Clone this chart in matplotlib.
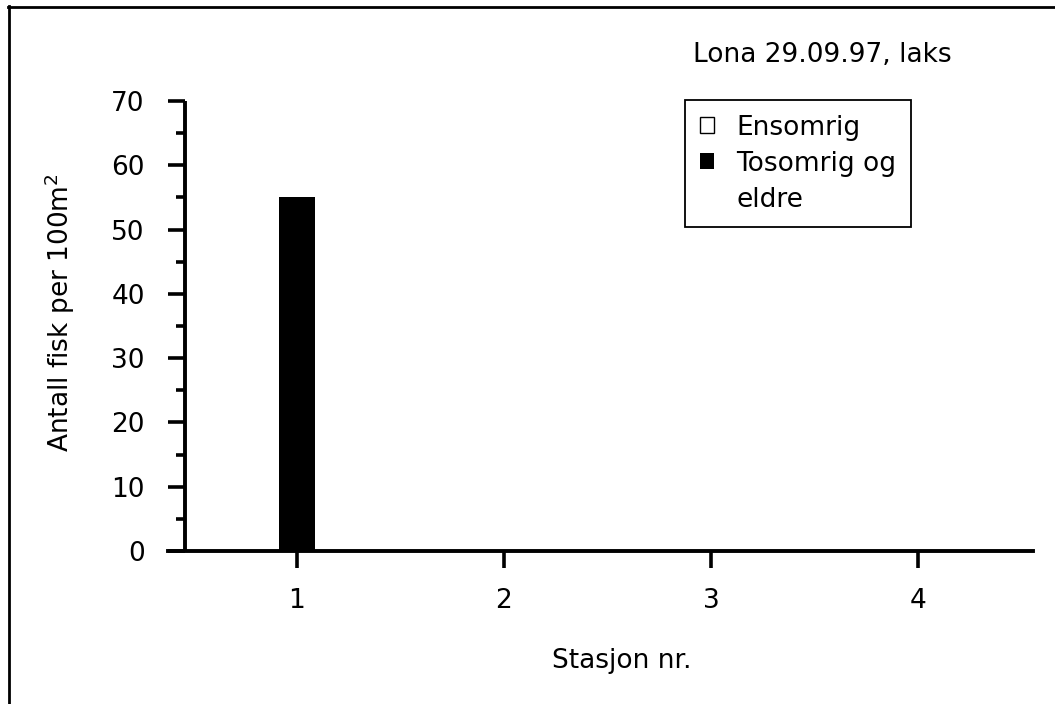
"""
Lona 29.09.97 - salmon density per station
"""

import matplotlib.pyplot as plt
from matplotlib.patches import Rectangle
from matplotlib.lines import Line2D

# Data
stations = [1, 2, 3, 4]
ensomrig = [0, 0, 0, 0]
tosomrig = [55, 0, 0, 0]
series_labels = ["Ensomrig", "Tosomrig og", "eldre"]
title_text = "Lona 29.09.97, laks"
x_label = "Stasjon nr."
y_label = r"Antall fisk per 100m$^{\mathregular{2}}$"

W, H = 1055, 704
FS = 19
plt.rcParams["font.family"] = "DejaVu Sans"

fig = plt.figure(figsize=(W / 100, H / 100), dpi=100)
ax = fig.add_axes([168 / W, 1 - 551 / H, (1033 - 168) / W, 450 / H])

bw = 0.17
b1 = ax.bar(stations, ensomrig, width=bw, color="white", edgecolor="black", linewidth=1)
b2 = ax.bar(stations, tosomrig, width=bw, color="black", edgecolor="black", linewidth=0)

ax.set_xlim(0.377, 4.556)
ax.set_ylim(0, 70)

for s in ["top", "right"]:
    ax.spines[s].set_visible(False)
ax.spines["left"].set_position(("data", 0.459))
ax.spines["left"].set_linewidth(2.8)
ax.spines["bottom"].set_linewidth(2.8)
ax.spines["left"].set_capstyle("butt")

ax.set_xticks(stations)
ax.set_yticks(range(0, 71, 10))
ax.set_yticks(range(5, 70, 10), minor=True)
ax.tick_params(axis="both", which="major", direction="out", length=12, width=2.6,
               labelsize=FS, color="black")
ax.tick_params(axis="y", which="major", pad=17)
ax.tick_params(axis="x", which="major", pad=15)
ax.tick_params(axis="y", which="minor", direction="out", length=6.5, width=2.6)

fig.text(622 / W, 1 - 668 / H, x_label, ha="center", va="baseline", fontsize=FS)
fig.text(60 / W, 1 - 313 / H, y_label, ha="center", va="center", rotation=90, fontsize=FS)
fig.text(693 / W, 1 - 62 / H, title_text, ha="left", va="baseline", fontsize=FS)

# legend: third entry is the wrapped line of the second label
blank = Rectangle((0, 0), 1, 1, visible=False)
leg = ax.legend([b1, b2, blank], series_labels, loc="upper left",
                bbox_to_anchor=(685 / W, 1 - 100 / H), bbox_transform=fig.transFigure,
                borderaxespad=0, fontsize=FS, handlelength=0.55, handleheight=0.55,
                handletextpad=0.85, labelspacing=0.38, borderpad=0.55,
                fancybox=False, edgecolor="black", framealpha=1)
leg.get_frame().set_linewidth(1.3)

# outer frame (top and left edges)
fig.add_artist(Line2D([8 / W, 1], [1 - 7 / H, 1 - 7 / H], color="black", lw=2, transform=fig.transFigure))
fig.add_artist(Line2D([9 / W, 9 / W], [0, 1 - 6 / H], color="black", lw=2, transform=fig.transFigure))

fig.savefig("out.png", dpi=100)
